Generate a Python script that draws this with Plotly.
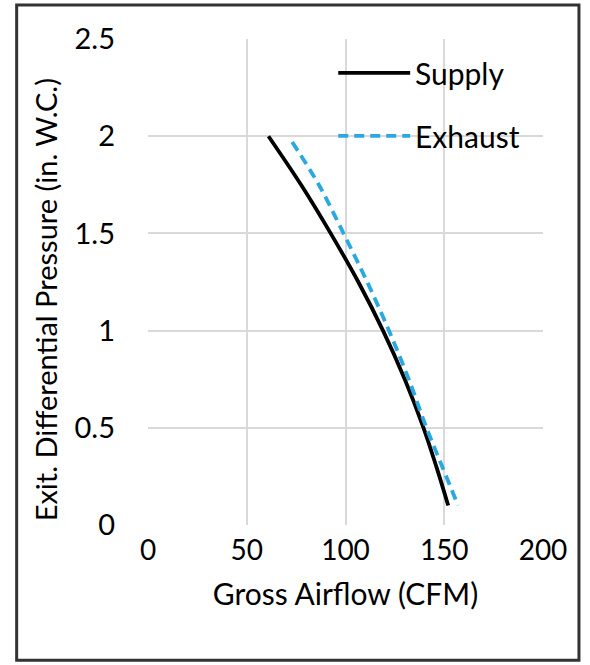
import plotly.graph_objects as go

supply_x = [61, 77.5, 92.5, 106.5, 119, 130, 139.5, 146, 152]
supply_y = [2.0, 1.75, 1.5, 1.25, 1.0, 0.75, 0.5, 0.3, 0.1]
exhaust_x = [73, 86.5, 99, 111, 122, 132, 141, 149, 157]
exhaust_y = [1.97, 1.75, 1.5, 1.25, 1.0, 0.75, 0.5, 0.3, 0.1]

x_ticks = [0, 50, 100, 150, 200]
y_ticks = [0, 0.5, 1, 1.5, 2, 2.5]
y_labels = ["0", "0.5", "1", "1.5", "2", "2.5"]

series_names = ["Supply", "Exhaust"]

FONT = "Lato"
SUPPLY_LINE = dict(color="black", width=3.8)
EXHAUST_LINE = dict(color="#2aa9e0", width=3.8, dash="10px,6px")

fig = go.Figure()
fig.add_trace(go.Scatter(x=supply_x, y=supply_y, mode="lines", name=series_names[0],
                         line=dict(SUPPLY_LINE, shape="spline"), showlegend=False))
fig.add_trace(go.Scatter(x=exhaust_x, y=exhaust_y, mode="lines", name=series_names[1],
                         line=dict(EXHAUST_LINE, shape="spline"), showlegend=False))

W, H = 590, 665
L, R, T, B = 147.5, 47, 39, 139.5
pw, ph = W - L - R, H - T - B

def px2paper_x(px):
    return (px - L) / pw

def px2paper_y(py):
    return (H - B - py) / ph

# outer frame
fig.add_shape(type="rect", xref="paper", yref="paper",
              x0=px2paper_x(16), x1=px2paper_x(579),
              y0=px2paper_y(661), y1=px2paper_y(5),
              line=dict(color="#333333", width=3), layer="below")

# legend drawn as line samples + labels
for name, style, py in [(series_names[0], SUPPLY_LINE, 73), (series_names[1], EXHAUST_LINE, 136)]:
    fig.add_shape(type="line", xref="paper", yref="paper",
                  x0=px2paper_x(338), x1=px2paper_x(410),
                  y0=px2paper_y(py), y1=px2paper_y(py), line=style)
    fig.add_annotation(xref="paper", yref="paper", x=px2paper_x(413), y=px2paper_y(py),
                       xanchor="left", yanchor="middle", text=name, showarrow=False,
                       font=dict(size=30, family=FONT, color="black"))

# y-axis title
fig.add_annotation(xref="paper", yref="paper", x=px2paper_x(45), y=px2paper_y(300),
                   xanchor="center", yanchor="middle", textangle=-90, showarrow=False,
                   text="Exit. Differential Pressure (in. W.C.)",
                   font=dict(size=29, family=FONT, color="black"))

fig.update_layout(
    width=W, height=H,
    margin=dict(l=L, r=R, t=T, b=B, autoexpand=False),
    paper_bgcolor="white", plot_bgcolor="white",
    font=dict(family=FONT, size=28, color="black"),
    showlegend=False,
    xaxis=dict(range=[0, 200], tickvals=x_ticks, showgrid=True, gridcolor="#d9d9d9",
               gridwidth=1.5, zeroline=False, showline=False, ticks="",
               ticklabelstandoff=6, tickfont=dict(size=28),
               title=dict(text="Gross Airflow (CFM)", standoff=18, font=dict(size=30))),
    yaxis=dict(range=[0, 2.5], tickvals=y_ticks, ticktext=y_labels, showgrid=True,
               gridcolor="#d9d9d9", gridwidth=1.5, zeroline=False, showline=False,
               ticks="", ticklabelstandoff=32, tickfont=dict(size=29)),
)

fig.write_html("out.html", config={"displayModeBar": False},
               post_script="document.body.style.margin='0';document.body.style.overflow='hidden';")
